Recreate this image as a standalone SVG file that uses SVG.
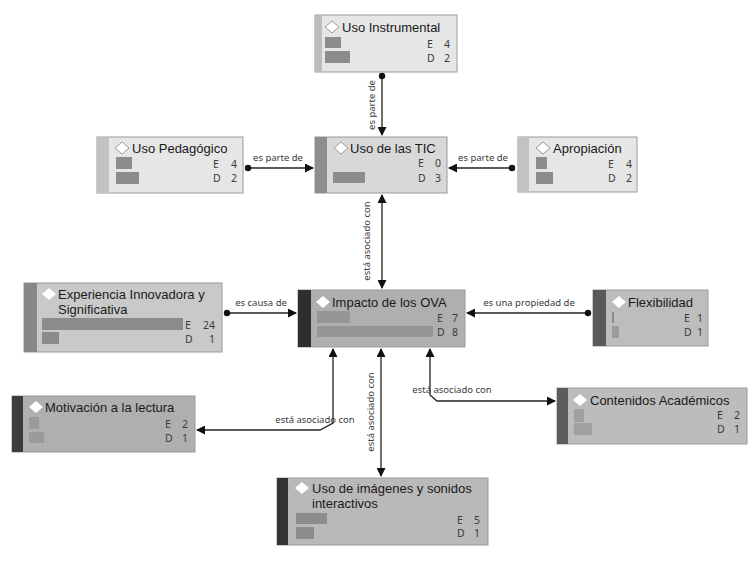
<svg xmlns="http://www.w3.org/2000/svg" width="756" height="561" viewBox="0 0 756 561">
<defs>
<marker id="arr" markerWidth="9" markerHeight="9" refX="8" refY="4.5" orient="auto-start-reverse" markerUnits="userSpaceOnUse">
<path d="M0,0 L9,4.5 L0,9 Z" fill="#111"/>
</marker>
<marker id="dot" markerWidth="8" markerHeight="8" refX="4" refY="4" orient="auto" markerUnits="userSpaceOnUse">
<circle cx="4" cy="4" r="3.2" fill="#111"/>
</marker>
</defs>
<style>
.box{stroke:#9a9a9a;stroke-width:1}
.t{font-family:"Liberation Sans",Arial,sans-serif;font-size:13px;fill:#1a1a1a}
.n{font-family:"Noto Sans","Open Sans","Liberation Sans",sans-serif;font-size:10.5px;fill:#3a3a3a}
.lbl{font-family:"Noto Sans","Open Sans","Liberation Sans",sans-serif;font-size:9.5px;fill:#3a3a3a}
.bar{fill:#8c8c8c}
.dia{fill:#ffffff;stroke:#9a9a9a;stroke-width:1}
.diaf{fill:#ffffff}
.c{fill:none;stroke:#222;stroke-width:1.3}
</style>
<rect width="756" height="561" fill="#ffffff"/>

<g id="connectors">
<path class="c" d="M382,76 L382,135" marker-start="url(#dot)" marker-end="url(#arr)"/>
<path class="c" d="M248,168 L313,168" marker-start="url(#dot)" marker-end="url(#arr)"/>
<path class="c" d="M512,168 L449,168" marker-start="url(#dot)" marker-end="url(#arr)"/>
<path class="c" d="M382,195 L382,288" marker-start="url(#arr)" marker-end="url(#arr)"/>
<path class="c" d="M227,313 L296,313" marker-start="url(#dot)" marker-end="url(#arr)"/>
<path class="c" d="M588,313 L467,313" marker-start="url(#dot)" marker-end="url(#arr)"/>
<path class="c" d="M333,349 L333,423 L320,430 L197,430" marker-start="url(#arr)" marker-end="url(#arr)"/>
<path class="c" d="M430,349 L430,395 L437,401 L555,401" marker-start="url(#arr)" marker-end="url(#arr)"/>
<path class="c" d="M381,349 L381,476" marker-start="url(#arr)" marker-end="url(#arr)"/>
<text class="lbl" text-anchor="middle" transform="translate(375,105) rotate(-90)">es parte de</text>
<text class="lbl" x="278" y="161" text-anchor="middle">es parte de</text>
<text class="lbl" x="483" y="161" text-anchor="middle">es parte de</text>
<text class="lbl" text-anchor="middle" transform="translate(370,241) rotate(-90)">está asociado con</text>
<text class="lbl" x="261" y="306" text-anchor="middle">es causa de</text>
<text class="lbl" x="529" y="306" text-anchor="middle">es una propiedad de</text>
<text class="lbl" x="315" y="423" text-anchor="middle">está asociado con</text>
<text class="lbl" x="452" y="393" text-anchor="middle">está asociado con</text>
<text class="lbl" text-anchor="middle" transform="translate(374,412) rotate(-90)">está asociado con</text>
</g>

<g id="uso-instrumental">
<rect class="box" x="315" y="15" width="142" height="57" fill="#e6e6e6"/>
<rect x="315" y="15" width="7" height="57" fill="#bdbdbd"/>
<path class="dia" d="M332,21 L339,27 L332,33 L325,27 Z"/>
<text class="t" x="342" y="32">Uso Instrumental</text>
<rect class="bar" x="325" y="37" width="16" height="11"/>
<rect class="bar" x="325" y="51" width="25" height="12"/>
<text class="n" x="427" y="48">E</text><text class="n" x="450" y="48" text-anchor="end">4</text>
<text class="n" x="427" y="62">D</text><text class="n" x="450" y="62" text-anchor="end">2</text>
</g>

<g id="uso-pedagogico">
<rect class="box" x="97" y="137" width="146" height="56" fill="#e6e6e6"/>
<rect x="97" y="137" width="12" height="56" fill="#c2c2c2"/>
<path class="dia" d="M122,142 L129,148 L122,154 L115,148 Z"/>
<text class="t" x="132" y="153">Uso Pedagógico</text>
<rect class="bar" x="116" y="157" width="16" height="12"/>
<rect class="bar" x="116" y="172" width="23" height="12"/>
<text class="n" x="213" y="168">E</text><text class="n" x="237" y="168" text-anchor="end">4</text>
<text class="n" x="213" y="182">D</text><text class="n" x="237" y="182" text-anchor="end">2</text>
</g>

<g id="uso-tic">
<rect class="box" x="315" y="137" width="132" height="56" fill="#d8d8d8"/>
<rect x="315" y="137" width="12" height="56" fill="#8e8e8e"/>
<path class="dia" d="M341,142 L348,148 L341,154 L334,148 Z"/>
<text class="t" x="350" y="153">Uso de las TIC</text>
<rect class="bar" x="333" y="172" width="32" height="11"/>
<text class="n" x="418" y="167">E</text><text class="n" x="441" y="167" text-anchor="end">0</text>
<text class="n" x="418" y="182">D</text><text class="n" x="441" y="182" text-anchor="end">3</text>
</g>

<g id="apropiacion">
<rect class="box" x="518" y="137" width="119" height="55" fill="#e6e6e6"/>
<rect x="518" y="137" width="11" height="55" fill="#c2c2c2"/>
<path class="dia" d="M543,142 L550,148 L543,154 L536,148 Z"/>
<text class="t" x="553" y="153">Apropiación</text>
<rect class="bar" x="536" y="157" width="11" height="12"/>
<rect class="bar" x="536" y="172" width="17" height="12"/>
<text class="n" x="608" y="168">E</text><text class="n" x="632" y="168" text-anchor="end">4</text>
<text class="n" x="608" y="182">D</text><text class="n" x="632" y="182" text-anchor="end">2</text>
</g>

<g id="experiencia">
<rect class="box" x="24" y="283" width="198" height="69" fill="#c9c9c9"/>
<rect x="24" y="283" width="13" height="69" fill="#888888"/>
<path class="diaf" d="M49,288 L56,294 L49,300 L42,294 Z"/>
<text class="t" x="58" y="299">Experiencia Innovadora y</text>
<text class="t" x="58" y="314">Significativa</text>
<rect class="bar" x="42" y="318" width="141" height="12"/>
<rect class="bar" x="42" y="332" width="17" height="12"/>
<text class="n" x="185" y="329">E</text><text class="n" x="215" y="329" text-anchor="end">24</text>
<text class="n" x="185" y="343">D</text><text class="n" x="215" y="343" text-anchor="end">1</text>
</g>

<g id="impacto">
<rect class="box" x="298" y="290" width="167" height="57" fill="#afafaf"/>
<rect x="298" y="290" width="13" height="57" fill="#2e2e2e"/>
<path class="diaf" d="M323,296 L330,302 L323,308 L316,302 Z"/>
<text class="t" x="332" y="307">Impacto de los OVA</text>
<rect x="317" y="311" width="33" height="12" fill="#969696"/>
<rect x="317" y="326" width="116" height="11" fill="#969696"/>
<text class="n" x="437" y="322">E</text><text class="n" x="458" y="322" text-anchor="end">7</text>
<text class="n" x="437" y="336">D</text><text class="n" x="458" y="336" text-anchor="end">8</text>
</g>

<g id="flexibilidad">
<rect class="box" x="593" y="290" width="115" height="56" fill="#bdbdbd"/>
<rect x="593" y="290" width="13" height="56" fill="#5a5a5a"/>
<path class="diaf" d="M619,296 L626,302 L619,308 L612,302 Z"/>
<text class="t" x="628" y="307">Flexibilidad</text>
<rect class="bar" x="612" y="312" width="2" height="11"/>
<rect x="612" y="326" width="7" height="12" fill="#9c9c9c"/>
<text class="n" x="684" y="322">E</text><text class="n" x="703" y="322" text-anchor="end">1</text>
<text class="n" x="684" y="336">D</text><text class="n" x="703" y="336" text-anchor="end">1</text>
</g>

<g id="motivacion">
<rect class="box" x="12" y="396" width="183" height="56" fill="#afafaf"/>
<rect x="12" y="396" width="11" height="56" fill="#3c3c3c"/>
<path class="diaf" d="M36,401 L43,407 L36,413 L29,407 Z"/>
<text class="t" x="45" y="412">Motivación a la lectura</text>
<rect x="29" y="417" width="10" height="12" fill="#9a9a9a"/>
<rect x="29" y="432" width="15" height="11" fill="#9a9a9a"/>
<text class="n" x="165" y="428">E</text><text class="n" x="188" y="428" text-anchor="end">2</text>
<text class="n" x="165" y="442">D</text><text class="n" x="188" y="442" text-anchor="end">1</text>
</g>

<g id="contenidos">
<rect class="box" x="557" y="388" width="190" height="56" fill="#bcbcbc"/>
<rect x="557" y="388" width="11" height="56" fill="#5c5c5c"/>
<path class="diaf" d="M580,394 L587,400 L580,406 L573,400 Z"/>
<text class="t" x="590" y="405">Contenidos Académicos</text>
<rect x="574" y="409" width="10" height="13" fill="#a0a0a0"/>
<rect x="574" y="423" width="18" height="12" fill="#a0a0a0"/>
<text class="n" x="717" y="419">E</text><text class="n" x="740" y="419" text-anchor="end">2</text>
<text class="n" x="717" y="433">D</text><text class="n" x="740" y="433" text-anchor="end">1</text>
</g>

<g id="uso-imagenes">
<rect class="box" x="277" y="478" width="211" height="67" fill="#b9b9b9"/>
<rect x="277" y="478" width="11" height="67" fill="#333333"/>
<path class="diaf" d="M302,482 L309,488 L302,494 L295,488 Z"/>
<text class="t" x="312" y="493">Uso de imágenes y sonidos</text>
<text class="t" x="312" y="508">interactivos</text>
<rect class="bar" x="296" y="513" width="31" height="11"/>
<rect class="bar" x="296" y="527" width="18" height="12"/>
<text class="n" x="457" y="524">E</text><text class="n" x="480" y="524" text-anchor="end">5</text>
<text class="n" x="457" y="537">D</text><text class="n" x="480" y="537" text-anchor="end">1</text>
</g>
</svg>
